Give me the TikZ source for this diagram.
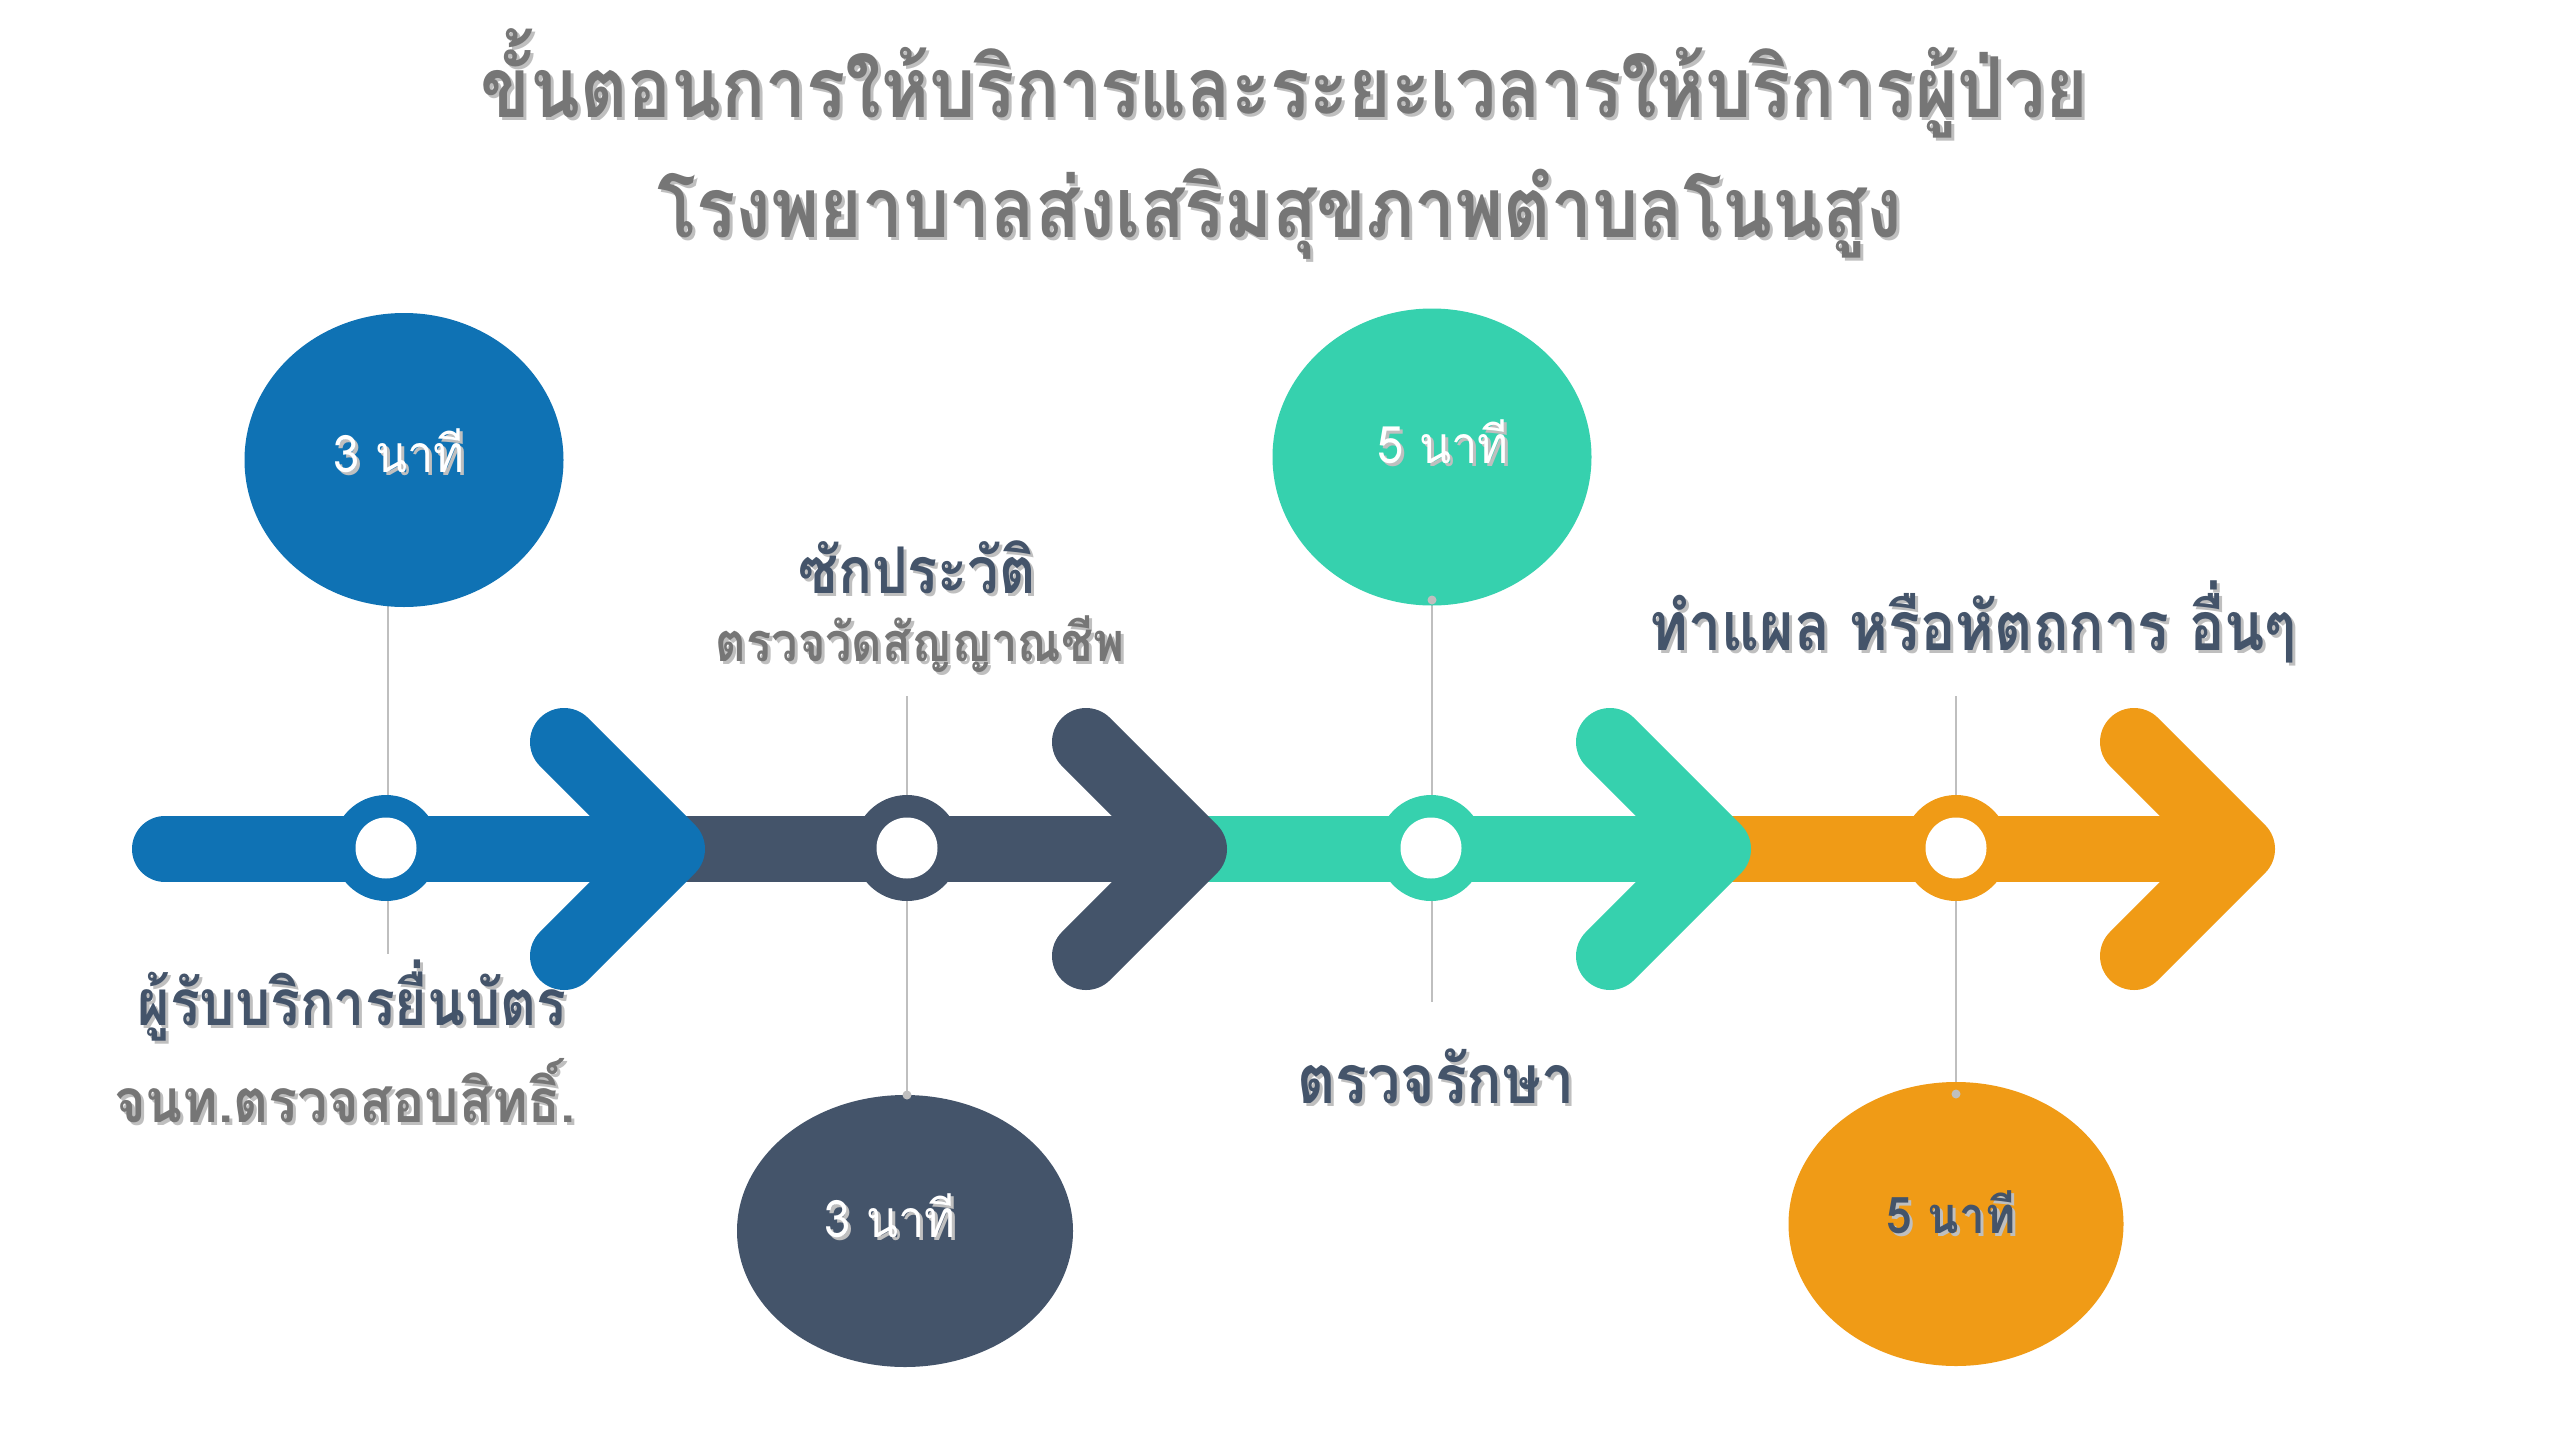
\documentclass[tikz,border=0pt]{standalone}
\usepackage{fontspec}
\newfontfamily\thai[Script=Thai]{Loma}
\usetikzlibrary{shapes.geometric}
\definecolor{cblue}{HTML}{0F72B4}
\definecolor{cslate}{HTML}{44546A}
\definecolor{cteal}{HTML}{36D1AE}
\definecolor{corange}{HTML}{F09B16}
\definecolor{ctitle}{HTML}{767676}
\definecolor{clabgray}{HTML}{767676}
\definecolor{cline}{HTML}{BFBFBF}
\newcommand{\shd}[1]{\leavevmode\rlap{\kern3pt\raisebox{-3pt}{\textcolor{black!25}{#1}}}#1}
\newcommand{\tall}[2]{\scalebox{1}[#1]{\shd{#2}}}
\begin{document}
\begin{tikzpicture}[x=1pt,y=-1pt,
  vline/.style={draw=cline,line width=2.2pt},
  dotg/.style={fill=cline},
  barseg/.style={line width=66pt},
  chev/.style={line width=68pt,line cap=round,line join=round},
  bigell/.style={ellipse,inner sep=0pt,draw=none},
  ttl/.style={font=\thai\bfseries\fontsize{73}{80}\selectfont,text=ctitle,anchor=base,inner sep=0pt},
  labd/.style={font=\thai\bfseries\fontsize{#1}{#1}\selectfont,text=cslate,anchor=base,inner sep=0pt},
  labg/.style={font=\thai\bfseries\fontsize{#1}{#1}\selectfont,text=clabgray,anchor=base,inner sep=0pt},
  tmtxt/.style={font=\thai\fontsize{47}{52}\selectfont,anchor=base,inner sep=0pt},
  tmbold/.style={font=\thai\bfseries\fontsize{46}{52}\selectfont,anchor=base,inner sep=0pt}]
\useasboundingbox (0,0) rectangle (2559,1440);
\fill[white] (0,0) rectangle (2559,1440);

% title
\node[ttl] (t1) at (1284,117) {\tall{1.15}{ขั้นตอนการให้บริการและระยะเวลารให้บริการผู้ป่วย}};
\node[ttl] (t2) at (1280,237) {\tall{1.15}{โรงพยาบาลส่งเสริมสุขภาพตำบลโนนสูง}};

% coordinates
\coordinate (r1) at (386,848);
\coordinate (r2) at (907,848);
\coordinate (r3) at (1431,848);
\coordinate (r4) at (1956,848);

% vertical lines
\coordinate (l1a) at (388,600); \coordinate (l1b) at (388,954);
\coordinate (l2a) at (907,696); \coordinate (l2b) at (907,1095);
\coordinate (l3a) at (1432,600); \coordinate (l3b) at (1432,1002);
\coordinate (l4a) at (1956,696); \coordinate (l4b) at (1956,1094);
\draw[vline] (l1a) -- (l1b);
\draw[vline] (l2a) -- (l2b);
\draw[vline] (l3a) -- (l3b);
\draw[vline] (l4a) -- (l4b);

% bars
\draw[barseg,cblue,line cap=round] (165,849) -- (671,849);
\draw[barseg,cslate] (640,849) -- (1193,849);
\draw[barseg,cteal] (1160,849) -- (1717,849);
\draw[barseg,corange] (1685,849) -- (2241,849);

% rings
\foreach \p/\c in {r1/cblue,r2/cslate,r3/cteal,r4/corange}{
  \fill[\c] (\p) circle[radius=53pt];
  \fill[white] (\p) circle[radius=30.5pt];
}

% chevrons
\draw[chev,cblue] (564,742) -- (671,849) -- (564,956);
\draw[chev,cslate] (1086,742) -- (1193,849) -- (1086,956);
\draw[chev,cteal] (1610,742) -- (1717,849) -- (1610,956);
\draw[chev,corange] (2134,742) -- (2241,849) -- (2134,956);

% big ellipses
\node[bigell,fill=cblue,minimum width=319pt,minimum height=294pt] (e1) at (404,460) {};
\node[bigell,fill=cteal,minimum width=319pt,minimum height=297pt] (e3) at (1432,457) {};
\node[bigell,fill=cslate,minimum width=336pt,minimum height=272pt] (e2) at (905,1231) {};
\node[bigell,fill=corange,minimum width=335pt,minimum height=284pt] (e4) at (1956,1224) {};

\fill[dotg] (l3a) circle[radius=4.5pt];
\fill[dotg] (l2b) circle[radius=4.5pt];
\fill[dotg] (l4b) circle[radius=4.5pt];

% time texts
\node[tmtxt,text=white] (m1) at (399,472) {\tall{1.1}{3 นาที}};
\node[tmtxt,text=white] (m3) at (1443,463) {\tall{1.1}{5 นาที}};
\node[tmtxt,text=white] (m2) at (890,1237) {\tall{1.1}{3 นาที}};
\node[tmbold,text=cslate] (m4) at (1951,1233) {\tall{1.1}{5 นาที}};

% labels
\node[labd=55.5] (a1) at (352,1025) {\tall{1.15}{ผู้รับบริการยื่นบัตร}};
\node[labg=54] (a1b) at (345,1122) {\tall{1.12}{จนท.ตรวจสอบสิทธิ์.}};
\node[labd=56] (a2) at (917,593) {\tall{1.15}{ซักประวัติ}};
\node[labg=47] (a2b) at (920,661) {\tall{1.15}{ตรวจวัดสัญญาณชีพ}};
\node[labd=59] (a3) at (1436,1103) {\tall{1.15}{ตรวจรักษา}};
\node[labd=59] (a4) at (1973,650) {\tall{1.15}{ทำแผล หรือหัตถการ อื่นๆ}};
\end{tikzpicture}
\end{document}
